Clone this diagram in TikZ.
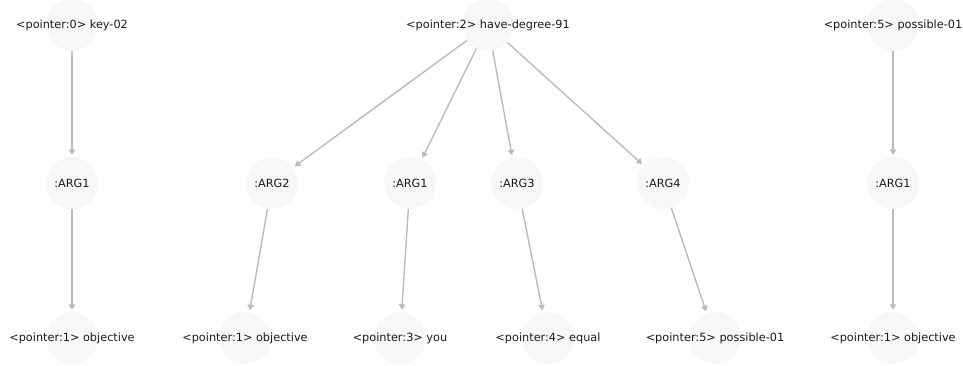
\documentclass[tikz,border=0pt]{standalone}
\usepackage{fontspec}
\setmainfont{DejaVu Sans}
\usetikzlibrary{arrows.meta}
\definecolor{nodefill}{HTML}{F7F7F7}
\definecolor{edgecol}{HTML}{BBBBBB}
\definecolor{txtcol}{HTML}{1A1A1A}
\tikzset{
  amr/.style={circle, fill=nodefill, draw=none, minimum size=52pt, inner sep=0pt,
    label={[text=txtcol, font=\fontsize{11.3}{13}\selectfont]center:#1}},
  edge/.style={draw=edgecol, line width=1.4pt, -{Triangle[length=5.5pt,width=6.5pt]}, shorten >=2pt}
}
\begin{document}
\begin{tikzpicture}[x=1pt,y=-1pt]
\useasboundingbox (0,0) rectangle (963,366);
% row 1
\node[amr={<pointer:0> key-02}] (k) at (72,25) {};
\node[amr={<pointer:2> have-degree-91}] (h) at (488,25) {};
\node[amr={<pointer:5> possible-01}] (p) at (893,25) {};
% row 2
\node[amr={:ARG1}] (a1) at (72,183) {};
\node[amr={:ARG2}] (b2) at (272,183) {};
\node[amr={:ARG1}] (b1) at (410,183) {};
\node[amr={:ARG3}] (b3) at (517,183) {};
\node[amr={:ARG4}] (b4) at (663,183) {};
\node[amr={:ARG1}] (c1) at (893,183) {};
% row 3
\node[amr={<pointer:1> objective}] (o1) at (72,338) {};
\node[amr={<pointer:1> objective}] (o2) at (245,338) {};
\node[amr={<pointer:3> you}] (y) at (400,338) {};
\node[amr={<pointer:4> equal}] (e) at (548,338) {};
\node[amr={<pointer:5> possible-01}] (p2) at (715,338) {};
\node[amr={<pointer:1> objective}] (o3) at (893,338) {};
% edges
\draw[edge] (k) -- (a1);
\draw[edge] (a1) -- (o1);
\draw[edge] (h) -- (b2);
\draw[edge] (h) -- (b1);
\draw[edge] (h) -- (b3);
\draw[edge] (h) -- (b4);
\draw[edge] (b2) -- (o2);
\draw[edge] (b1) -- (y);
\draw[edge] (b3) -- (e);
\draw[edge] (b4) -- (p2);
\draw[edge] (p) -- (c1);
\draw[edge] (c1) -- (o3);
\end{tikzpicture}
\end{document}
